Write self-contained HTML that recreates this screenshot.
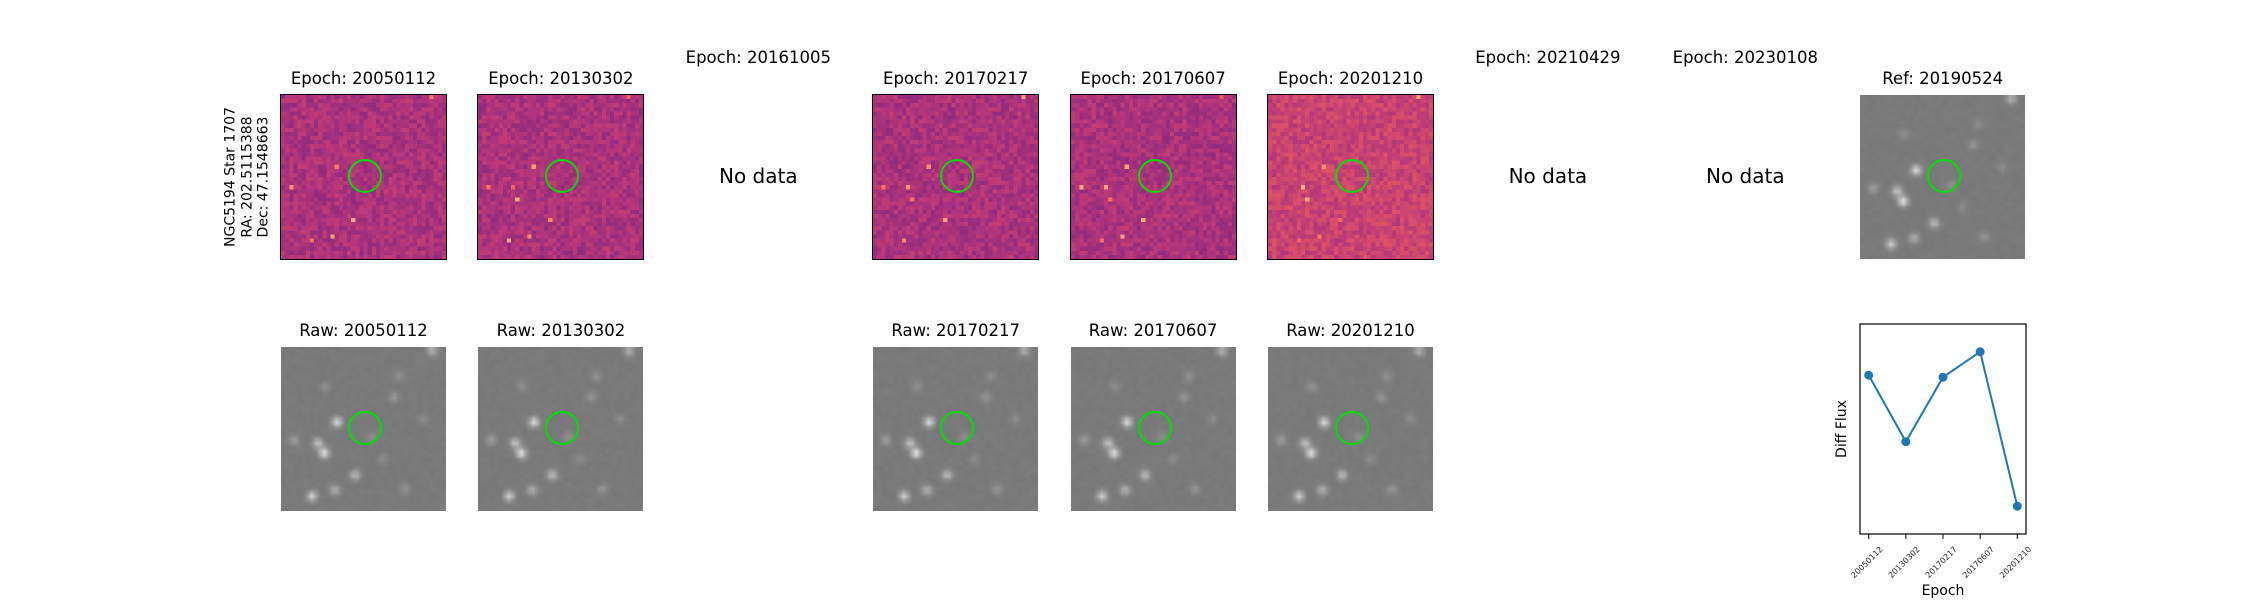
<!DOCTYPE html>
<html><head><meta charset="utf-8">
<style>
body{margin:0;background:#fff;}
#root{position:relative;width:2250px;height:600px;overflow:hidden;font-family:"DejaVu Sans","Liberation Sans",sans-serif;color:#000;}
.t{position:absolute;font-size:16.5px;white-space:nowrap;transform:translateX(-50%);}
.nd{position:absolute;font-size:20px;white-space:nowrap;transform:translate(-50%,-50%);}
canvas{position:absolute;}
.frame{position:absolute;border:1.5px solid #000;box-sizing:border-box;pointer-events:none;}
.circ{position:absolute;width:34px;height:34px;border:2px solid #00e000;border-radius:50%;box-sizing:border-box;}
</style></head><body>
<div id="root">
<div style="position:absolute;left:247px;top:177px;transform:translate(-50%,-50%) rotate(-90deg);font-size:14px;text-align:center;line-height:16.5px;white-space:nowrap;">NGC5194 Star 1707<br>RA: 202.5115388<br>Dec: 47.1548663</div>
<svg id="lc" width="2250" height="600" style="position:absolute;left:0;top:0"></svg>
</div>
<script>
const epochs=["20050112","20130302","20161005","20170217","20170607","20201210","20210429","20230108"];
const hasData=[true,true,false,true,true,true,false,false];
const lcEpochs=["20050112","20130302","20170217","20170607","20201210"];
const lcFlux=[0.72,0.38,0.71,0.84,0.05];
const root=document.getElementById('root');
const PX=281,PITCH=197.4,W=165,H=164,Y1=95,Y2=347;
let seed=7;function rnd(){seed=(seed*16807)%2147483647;return seed/2147483647;}
const stars=[[54,73,1],[41,104,1.1],[35,94,0.8],[29,147,0.9],[72,126,0.7],[52,141,0.6],[11,91,0.4],[149,2,0.6],[111,48,0.3],[89,88,0.25],[122,140,0.3],[42,37,0.25],[116,27,0.25],[100,110,0.2],[140,70,0.2]];
function magma(v){const s=[[0,0,4],[40,17,90],[114,31,129],[183,55,121],[241,96,93],[254,175,119],[252,253,191]];v=Math.max(0,Math.min(0.999,v))*6;const i=Math.floor(v),f=v-i;const a=s[i],b=s[i+1];return `rgb(${a.map((c,k)=>Math.round(c+(b[k]-c)*f)).join(',')})`;}
function diffCanvas(x,y,base){const c=document.createElement('canvas');c.width=40;c.height=40;c.style.cssText=`left:${x}px;top:${y}px;width:${W}px;height:${H}px;image-rendering:pixelated;`;const g=c.getContext('2d');for(let i=0;i<40;i++)for(let j=0;j<40;j++){g.fillStyle=magma(base+(rnd()-0.5)*0.12);g.fillRect(i,j,1,1);}
stars.slice(0,8).forEach(s=>{if(rnd()<0.7){g.fillStyle=magma(0.65+rnd()*0.2);g.fillRect(Math.floor(s[0]/W*40),Math.floor(s[1]/H*40),1,1);}});return c;}
function rawCanvas(x,y){const c=document.createElement('canvas');c.width=40;c.height=40;c.style.cssText=`left:${x}px;top:${y}px;width:${W}px;height:${H}px;`;const g=c.getContext('2d');const im=g.createImageData(40,40);for(let i=0;i<40;i++)for(let j=0;j<40;j++){let v=122+(rnd()-0.5)*6;stars.forEach(s=>{const dx=i-s[0]/W*40,dy=j-s[1]/H*40;v+=s[2]*100*Math.exp(-(dx*dx+dy*dy)/1.4);});v=Math.min(255,v);const k=(j*40+i)*4;im.data[k]=im.data[k+1]=im.data[k+2]=v;im.data[k+3]=255;}g.putImageData(im,0,0);return c;}
function text(cls,x,y,s,name){const d=document.createElement('div');d.className=cls;d.style.left=x+'px';d.style.top=y+'px';d.textContent=s;

root.appendChild(d);}
function circle(x,y){const d=document.createElement('div');d.className='circ';d.style.left=(x+84-17)+'px';d.style.top=(y+81-17)+'px';

root.appendChild(d);}
epochs.forEach((e,i)=>{const x=PX+i*PITCH;
 if(hasData[i]){
  text('t',x+W/2,69,'Epoch: '+e,'diff-title-'+e);
  const c=diffCanvas(x,Y1,e==='20201210'?0.55:0.47);
  
  root.appendChild(c);
  const f=document.createElement('div');f.className='frame';f.style.cssText+=`left:${x-1}px;top:${Y1-1}px;width:${W+2}px;height:${H+2}px;`;
  
  root.appendChild(f);
  circle(x,Y1);
  text('t',x+W/2,321,'Raw: '+e,'raw-title-'+e);
  const r=rawCanvas(x,Y2);
  
  root.appendChild(r);
  circle(x,Y2);
 }else{
  text('t',x+W/2,48,'Epoch: '+e,'diff-title-'+e);
  text('nd',x+W/2,176,'No data','no-data-'+e);
 }});
const rx=PX+8*PITCH;
text('t',rx+W/2,69,'Ref: 20190524','ref-title');
const rc=rawCanvas(rx,Y1);

root.appendChild(rc);circle(rx,Y1);
const svg=document.getElementById('lc');const NS='http://www.w3.org/2000/svg';
const ax={l:1860,r:2026,t:324,b:534};
const xs=i=>ax.l+8.7+i*(ax.r-ax.l-17.4)/(lcEpochs.length-1);
const mn=Math.min(...lcFlux),mx=Math.max(...lcFlux),pad=(mx-mn)*0.18;
const ys=v=>ax.b-(v-(mn-pad))/((mx+pad)-(mn-pad))*(ax.b-ax.t);
function el(t,a,name){const e=document.createElementNS(NS,t);for(const k in a)e.setAttribute(k,a[k]);

svg.appendChild(e);return e;}
el('rect',{x:ax.l,y:ax.t,width:ax.r-ax.l,height:ax.b-ax.t,fill:'none',stroke:'#000','stroke-width':1.2},'plot-frame');
el('polyline',{points:lcFlux.map((v,i)=>xs(i)+','+ys(v)).join(' '),fill:'none',stroke:'#1f77b4','stroke-width':2},'flux-line');
lcFlux.forEach((v,i)=>{el('circle',{cx:xs(i),cy:ys(v),r:4.5,fill:'#1f77b4'},'flux-point-'+lcEpochs[i]);
 el('line',{x1:xs(i),x2:xs(i),y1:ax.b,y2:ax.b+5,stroke:'#000','stroke-width':1},'x-tick');
 const cx=xs(i)-2,cy=ax.b+28;
 const t=el('text',{x:cx,y:cy+3,'font-size':8,'text-anchor':'middle','font-family':'DejaVu Sans, sans-serif',fill:'#222',transform:`rotate(-45 ${cx} ${cy})`},'x-tick-label');t.textContent=lcEpochs[i];});
const xl=el('text',{x:(ax.l+ax.r)/2,y:595,'font-size':14,'text-anchor':'middle','font-family':'DejaVu Sans, sans-serif'},'x-axis-title');xl.textContent='Epoch';
const yl=el('text',{x:1846,y:(ax.t+ax.b)/2,'font-size':14,'text-anchor':'middle','font-family':'DejaVu Sans, sans-serif',transform:`rotate(-90 1846 ${(ax.t+ax.b)/2})`},'y-axis-title');yl.textContent='Diff Flux';
</script>
</body></html>
